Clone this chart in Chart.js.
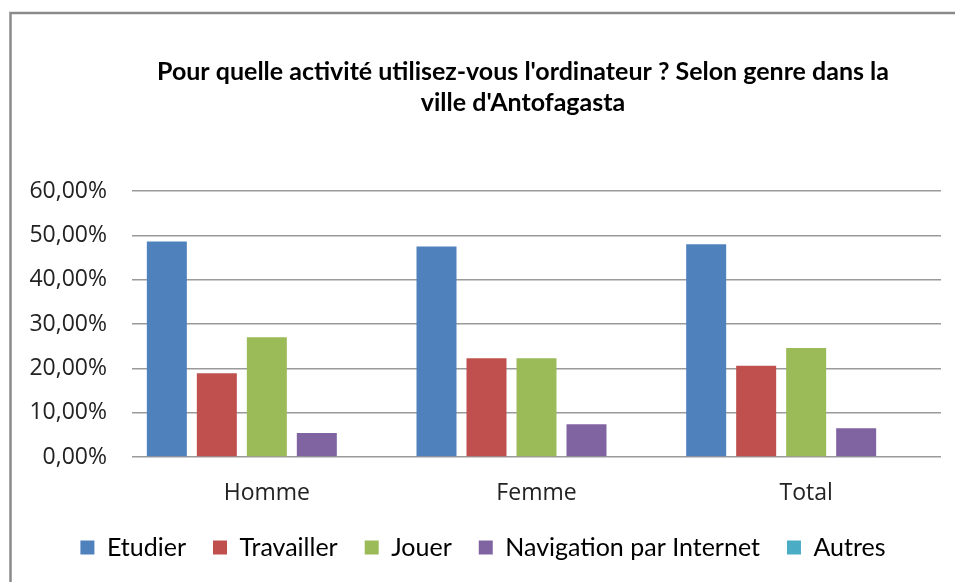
<!DOCTYPE html>
<html>
<head>
<meta charset="utf-8">
<script src="https://cdn.jsdelivr.net/npm/chart.js@4"></script>
<style>
  body { margin: 0; background: #fff; }
  canvas { display: block; }
</style>
</head>
<body>
<canvas id="chart" width="955" height="582"></canvas>
<script>
// -------------------------------
// Data (percent)
// -------------------------------
const categories = ["Homme", "Femme", "Total"];
const seriesNames = ["Etudier", "Travailler", "Jouer", "Navigation par Internet", "Autres"];
const etudier = [48.6, 47.5, 48.0];
const travailler = [18.9, 22.3, 20.6];
const jouer = [27.0, 22.3, 24.6];
const navigation = [5.4, 7.4, 6.5];
const autres = [0, 0, 0];
const yTicks = [0, 10, 20, 30, 40, 50, 60];
const titleLines = [
  "Pour quelle activité utilisez-vous l'ordinateur ? Selon genre dans la",
  "ville d'Antofagasta",
];

const colors = ["#4F81BD", "#C0504D", "#9BBB59", "#8064A2", "#4BACC6"];
const values = [etudier, travailler, jouer, navigation, autres];

// -------------------------------
// Frame and title, drawn like the Excel chart box
// -------------------------------
const frameTitle = {
  id: "frameTitle",
  afterDraw(chart) {
    const ctx = chart.ctx;
    ctx.save();
    ctx.strokeStyle = "#8a8a8a";
    ctx.lineWidth = 2.5;
    ctx.beginPath();
    ctx.moveTo(10.5, 600);
    ctx.lineTo(10.5, 13);
    ctx.lineTo(960, 13);
    ctx.stroke();

    ctx.fillStyle = "#000";
    ctx.font = "bold 25px Lato";
    ctx.textAlign = "center";
    ctx.textBaseline = "middle";
    ctx.fillText(titleLines[0], 523, 72);
    ctx.fillText(titleLines[1], 523, 103);
    ctx.restore();
  },
};

new Chart(document.getElementById("chart"), {
  type: "bar",
  data: {
    labels: categories,
    datasets: seriesNames.map((name, i) => ({
      label: name,
      data: values[i],
      backgroundColor: colors[i],
      borderWidth: 0,
      categoryPercentage: 0.927,
      barPercentage: 0.8,
    })),
  },
  options: {
    responsive: false,
    animation: false,
    devicePixelRatio: 1,
    layout: { padding: { top: 191, right: 14, left: 25, bottom: 12 } },
    plugins: {
      title: { display: false },
      tooltip: { enabled: false },
      legend: {
        position: "bottom",
        labels: {
          boxWidth: 14,
          boxHeight: 14,
          padding: 27,
          color: "#000",
          font: { family: "Lato", size: 25 },
        },
      },
    },
    scales: {
      x: {
        grid: { display: false, drawTicks: false },
        border: { display: false },
        ticks: { padding: 23, color: "#222", font: { family: "Open Sans", size: 23 } },
        afterFit: (s) => { s.height = 51; },
      },
      y: {
        min: 0,
        max: 60,
        afterBuildTicks: (s) => { s.ticks = yTicks.map((v) => ({ value: v })); },
        grid: { color: "#9a9a9a", lineWidth: 1.5, drawTicks: false },
        border: { display: false },
        ticks: {
          padding: 25,
          color: "#222",
          font: { family: "Open Sans", size: 23 },
          callback: (v) => v.toFixed(2).replace(".", ",") + "%",
        },
        afterFit: (s) => { s.width = 107; },
      },
    },
  },
  plugins: [frameTitle],
});
</script>
</body>
</html>
